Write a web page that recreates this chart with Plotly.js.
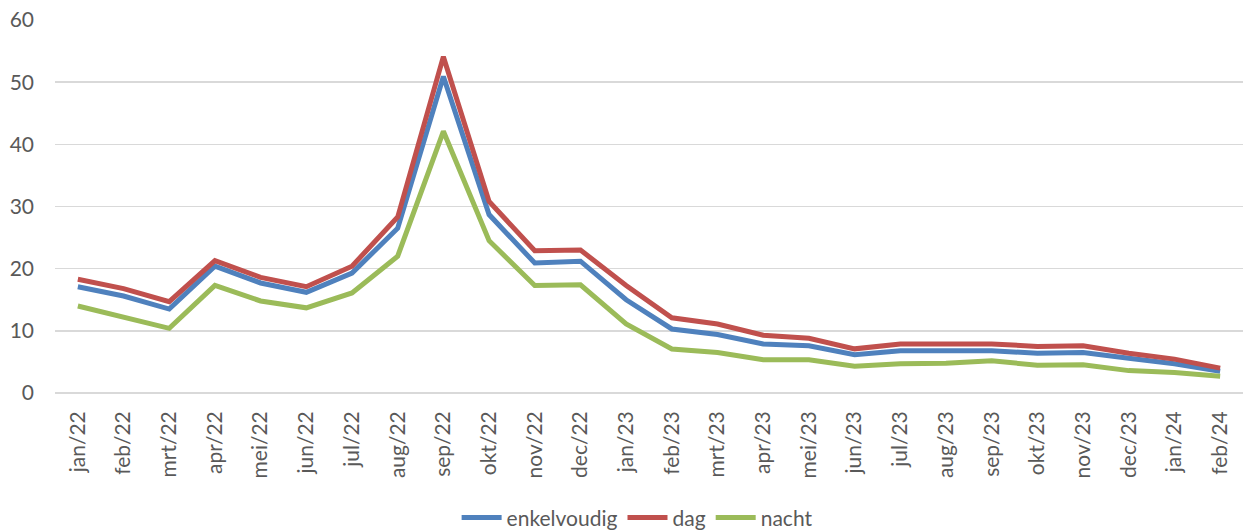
<!DOCTYPE html>
<html>
<head>
<meta charset="utf-8">
<script src="https://cdn.plot.ly/plotly-3.0.1.min.js"></script>
<style>html,body{margin:0;padding:0;background:#fff;}#chart{width:1243px;height:530px;}</style>
</head>
<body>
<div id="chart"></div>
<script>
const months = ["jan/22","feb/22","mrt/22","apr/22","mei/22","jun/22","jul/22","aug/22","sep/22","okt/22","nov/22","dec/22",
  "jan/23","feb/23","mrt/23","apr/23","mei/23","jun/23","jul/23","aug/23","sep/23","okt/23","nov/23","dec/23","jan/24","feb/24"];
const enkelvoudig = [17.1,15.6,13.5,20.4,17.7,16.2,19.3,26.5,50.9,28.7,20.9,21.2,15.0,10.3,9.4,7.9,7.6,6.15,6.8,6.8,6.8,6.4,6.5,5.6,4.7,3.5];
const dag = [18.3,16.8,14.7,21.3,18.6,17.1,20.4,28.3,54.1,30.8,22.9,23.0,17.3,12.1,11.1,9.3,8.8,7.1,7.9,7.9,7.9,7.5,7.6,6.4,5.45,4.0];
const nacht = [14.0,12.1,10.4,17.3,14.8,13.7,16.1,22.0,42.1,24.5,17.3,17.4,11.1,7.07,6.5,5.35,5.35,4.3,4.7,4.8,5.2,4.45,4.55,3.6,3.3,2.7];
const yTicks = [0,10,20,30,40,50,60];

const mk = (name, y, color) => ({type:'scatter', mode:'lines', name, x: months, y,
  line:{color, width:5, shape:'linear'}, hoverinfo:'skip'});

const data = [
  mk('enkelvoudig', enkelvoudig, '#4f81bd'),
  mk('dag', dag, '#c0504d'),
  mk('nacht', nacht, '#9bbb59')
];

const layout = {
  width:1243, height:530,
  margin:{l:55, r:0, t:20, b:137, autoexpand:false},
  paper_bgcolor:'#fff', plot_bgcolor:'#fff',
  font:{family:'Lato, Carlito, Calibri, sans-serif', size:21, color:'#595959'},
  showlegend:true,
  legend:{orientation:'h', x:0.49, xanchor:'center', y:-0.335, yanchor:'middle',
    font:{size:21, color:'#595959'}, itemwidth:40, tracegroupgap:0},
  xaxis:{type:'category', range:[-0.5, 25.5], tickangle:-90, showgrid:false, zeroline:false,
    showline:false, ticks:'', ticklabelstandoff:13, automargin:false, tickfont:{size:21, color:'#595959'}},
  yaxis:{range:[0,60], tickvals:yTicks, ticktext:yTicks.map(String), showgrid:true, gridcolor:'#d9d9d9', gridwidth:1.5,
    zeroline:true, zerolinecolor:'#d9d9d9', zerolinewidth:1.5, showline:false, ticks:'', automargin:false,
    ticklabelstandoff:20, tickfont:{size:21, color:'#595959'}}
};

Plotly.newPlot('chart', data, layout, {displayModeBar:false, staticPlot:true});
</script>
</body>
</html>
